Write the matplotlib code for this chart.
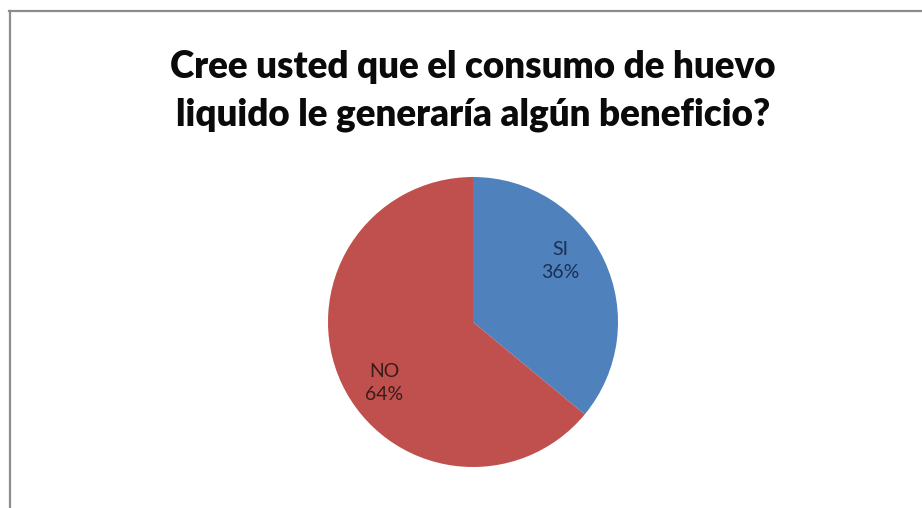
import matplotlib
matplotlib.use('Agg')
import matplotlib.pyplot as plt
from matplotlib.lines import Line2D

TITLE = 'Cree usted que el consumo de huevo\nliquido le generaría algún beneficio?'
labels = ['SI', 'NO']
shares = [36, 64]
colors = ['#4F81BD', '#C0504D']
text_colors = ['#1c2f55', '#3b1a1a']
# where each data label sits, in pie units (radius = 1)
label_pos = [(0.60, 0.42), (-0.61, -0.42)]

W, H = 922, 508
fig = plt.figure(figsize=(W / 100, H / 100), dpi=100)
fig.patch.set_facecolor('white')

# chart frame: top and left edges only
fig.add_artist(Line2D([9 / W, 1], [1 - 11 / H, 1 - 11 / H], color='#8c8c8c', lw=1.6))
fig.add_artist(Line2D([9.5 / W, 9.5 / W], [0, 1 - 11 / H], color='#8c8c8c', lw=1.6))

fig.text(473 / W, 1 - 91 / H, TITLE, ha='center', va='center',
         fontsize=26.5, fontweight='heavy', family='Lato', linespacing=1.48,
         color='#0a0a0a')

cx, cy, r = 473, 322, 145
ax = fig.add_axes([(cx - r) / W, 1 - (cy + r) / H, 2 * r / W, 2 * r / H])
ax.pie(shares, colors=colors, startangle=90, counterclock=False, radius=1,
       wedgeprops=dict(linewidth=0))
ax.set_xlim(-1, 1)
ax.set_ylim(-1, 1)
ax.set_aspect('auto')
ax.axis('off')

for lab, val, (x, y), tc in zip(labels, shares, label_pos, text_colors):
    ax.text(x, y, f'{lab}\n{val}%', ha='center', va='center', fontsize=14,
            family='Lato', color=tc, linespacing=1.45)

fig.savefig('out.png', dpi=100)
